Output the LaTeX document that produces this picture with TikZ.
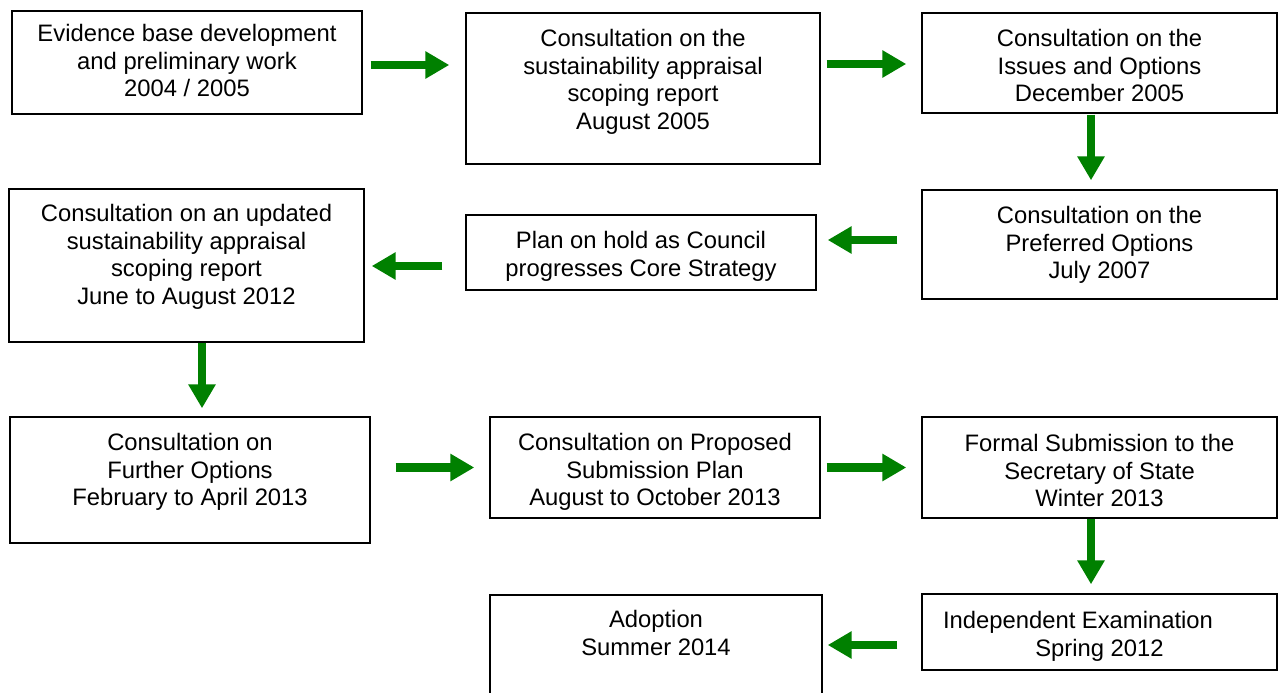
\documentclass[tikz,border=0pt]{standalone}
\usepackage{fontspec}
\setmainfont{Liberation Sans}
\usetikzlibrary{arrows.meta,calc}
\definecolor{flowgreen}{RGB}{0,128,0}
\tikzset{
	stage/.style={draw, line width=1.4pt, inner sep=0pt},
	stagetext/.style={align=center, inner sep=0pt, anchor=north, font=\fontsize{23.8}{27.6}\selectfont},
	flow/.style={draw=flowgreen, line width=8.5pt, -{Triangle[length=24pt,width=26pt]}}
}
\begin{document}
\begin{tikzpicture}[x=1pt,y=-1pt]
	\useasboundingbox (0,0) rectangle (1283,693);
	\clip (0,0) rectangle (1283,693);
	
	% boxes
	\node[stage, minimum width=350, minimum height=103] (b1) at (187,62.5) {};
	\node[stage, minimum width=354, minimum height=151] (b2) at (643,88.5) {};
	\node[stage, minimum width=355, minimum height=100] (b3) at (1099.5,63) {};
	\node[stage, minimum width=355, minimum height=109] (b4) at (1099.5,244.5) {};
	\node[stage, minimum width=350, minimum height=75] (b5) at (641,252.5) {};
	\node[stage, minimum width=355, minimum height=153] (b6) at (186.5,265.5) {};
	\node[stage, minimum width=360, minimum height=126] (b7) at (190,480) {};
	\node[stage, minimum width=330, minimum height=101] (b8) at (655,467.5) {};
	\node[stage, minimum width=355, minimum height=101] (b9) at (1099.5,467.5) {};
	\node[stage, minimum width=355, minimum height=76] (b10) at (1099.5,632) {};
	\node[stage, minimum width=332, minimum height=105] (b11) at (656,647.5) {};
	
	% texts
	\node[stagetext] (t1) at (187,24) {Evidence base development\\and preliminary work\\2004 / 2005};
	\node[stagetext] (t2) at (643,29) {Consultation on the\\sustainability appraisal\\scoping report\\August 2005};
	\node[stagetext] (t3) at (1099.5,29) {Consultation on the\\Issues and Options\\December 2005};
	\node[stagetext] (t4) at (1099.5,206) {Consultation on the\\Preferred Options\\July 2007};
	\node[stagetext] (t5) at (641,231) {Plan on hold as Council\\progresses Core Strategy};
	\node[stagetext] (t6) at (186.5,204) {Consultation on an updated\\sustainability appraisal\\scoping report\\June to August 2012};
	\node[stagetext] (t7) at (190,433) {Consultation on\\Further Options\\February to April 2013};
	\node[stagetext] (t8) at (655,433) {Consultation on Proposed\\Submission Plan\\August to October 2013};
	\node[stagetext] (t9) at (1099.5,434) {Formal Submission to the\\Secretary of State\\Winter 2013};
	\node[stagetext] (t10) at (1099.5,611) {Independent Examination\hspace*{43pt}\mbox{}\\Spring 2012};
	\node[stagetext] (t11) at (656,610) {Adoption\\Summer 2014};
	
	% arrows
	\draw[flow] ($(b1.east)+(8,2.5)$) -- ($(b1.east -| b2.west)+(-16,2.5)$);
	\draw[flow] ($(b3.west -| b2.east)+(6,1)$) -- ($(b3.west)+(-15,1)$);
	\draw[flow] ($(b3.south)+(-8.5,1)$) -- ($(b4.north)+(-8.5,-9)$);
	\draw[flow] ($(b4.west)+(-24,-4.5)$) -- ($(b4.west -| b5.east)+(11,-4.5)$);
	\draw[flow] ($(b6.east -| b5.west)+(-23,0.5)$) -- ($(b6.east)+(7,0.5)$);
	\draw[flow] ($(b6.south)+(15.5,0)$) -- ($(b6.south |- b7.north)+(15.5,-8)$);
	\draw[flow] ($(b8.west -| b7.east)+(25,0)$) -- ($(b8.west)+(-15,0)$);
	\draw[flow] ($(b8.east)+(6,0)$) -- ($(b9.west)+(-15,0)$);
	\draw[flow] ($(b9.south)+(-8.5,0)$) -- ($(b10.north)+(-8.5,-9)$);
	\draw[flow] ($(b10.west |- b11.east)+(-24,-2.5)$) -- ($(b11.east)+(5,-2.5)$);
\end{tikzpicture}
\end{document}
